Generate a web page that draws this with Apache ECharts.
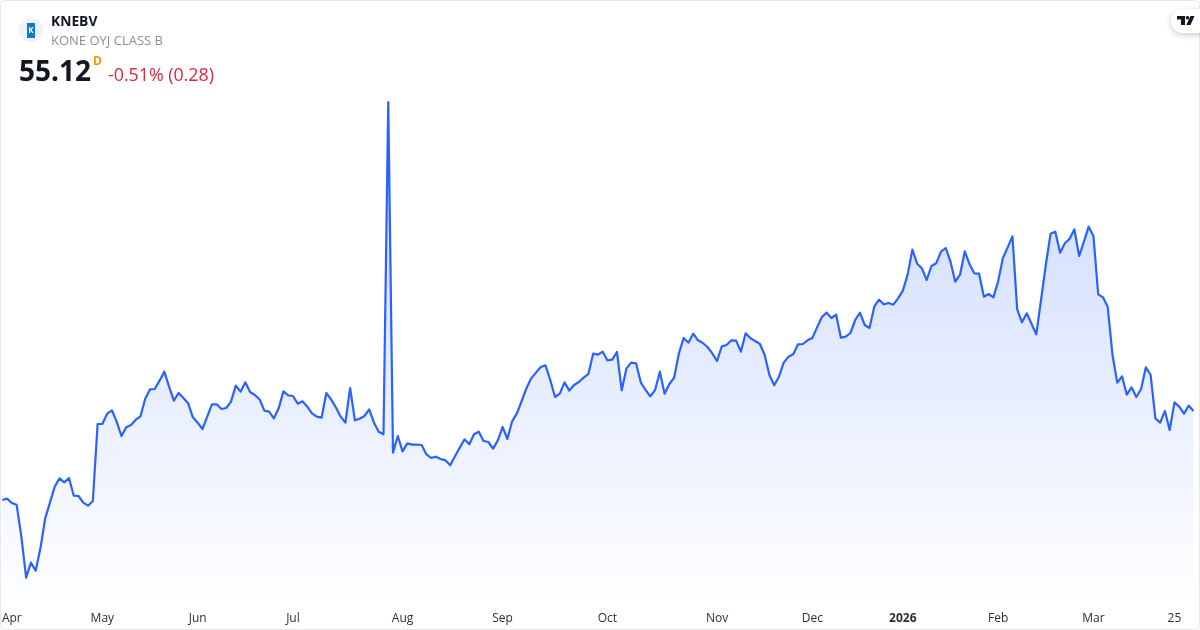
<!DOCTYPE html>
<html>
<head>
<meta charset="utf-8">
<style>html,body{margin:0;padding:0;background:#fff}#c{width:1200px;height:630px}</style>
<script src="https://cdn.jsdelivr.net/npm/echarts@6/dist/echarts.min.js"></script>
</head>
<body>
<div id="c"></div>
<script>
const symbol = 'KNEBV';
const company = 'KONE OYJ CLASS B';
const lastPrice = '55.12';
const intervalTag = 'D';
const changeText = '-0.51% (0.28)';
const prices = [
52.45,52.49,52.36,52.31,51.35,50.12,50.57,50.33,51.00,51.90,
52.37,52.85,53.10,52.98,53.11,52.58,52.57,52.37,52.28,52.42,
54.73,54.73,55.04,55.14,54.80,54.37,54.63,54.70,54.86,54.96,
55.49,55.77,55.78,56.03,56.30,55.85,55.43,55.66,55.51,55.35,
54.93,54.77,54.58,54.95,55.32,55.32,55.18,55.21,55.40,55.88,
55.70,55.98,55.69,55.60,55.47,55.13,55.10,54.90,55.20,55.71,
55.59,55.57,55.34,55.41,55.25,55.05,54.95,54.92,55.66,55.47,
55.23,54.95,54.77,55.81,54.84,54.89,54.97,55.17,54.77,54.50,
54.42,64.39,53.87,54.37,53.91,54.15,54.11,54.11,54.10,53.82,
53.71,53.75,53.68,53.64,53.49,53.76,54.02,54.27,54.12,54.42,
54.50,54.22,54.19,53.99,54.24,54.64,54.28,54.81,55.05,55.42,
55.80,56.10,56.27,56.44,56.49,56.05,55.54,55.64,55.98,55.73,
55.90,55.99,56.12,56.23,56.84,56.81,56.90,56.64,56.66,56.89,
55.74,56.40,56.57,56.55,55.98,55.75,55.56,55.75,56.30,55.64,
55.93,56.12,56.85,57.31,57.17,57.44,57.24,57.16,57.04,56.85,
56.62,57.06,57.10,57.24,57.23,56.90,57.45,57.30,57.22,57.13,
56.80,56.20,55.89,56.15,56.57,56.75,56.82,57.12,57.13,57.24,
57.31,57.63,57.94,58.07,57.91,58.01,57.32,57.35,57.46,57.85,
58.07,57.70,57.61,58.25,58.46,58.32,58.36,58.31,58.50,58.73,
59.21,59.96,59.54,59.40,59.05,59.47,59.55,59.90,60.01,59.60,
59.00,59.21,59.91,59.52,59.25,59.24,58.55,58.63,58.53,59.01,
59.71,60.03,60.36,58.17,57.78,58.05,57.74,57.42,58.45,59.50,
60.44,60.50,59.87,60.15,60.29,60.57,59.77,60.20,60.65,60.37,
58.62,58.53,58.24,56.80,55.97,56.16,55.61,55.83,55.54,55.78,
56.43,56.20,54.90,54.77,55.12,54.55,55.38,55.25,55.04,55.28,
55.12
];
const tickLabels = ['Apr','May','Jun','Jul','Aug','Sep','Oct','Nov','Dec','2026','Feb','Mar','25'];
const tickBars = [2,21,41,61,84,105,127,150,170,189,209,229,246];
const categories = prices.map((_, i) => String(i));

const FONT = '"Open Sans", "Noto Sans", sans-serif';
const chart = echarts.init(document.getElementById('c'), null, {renderer: 'canvas'});
chart.setOption({
  animation: false,
  backgroundColor: '#ffffff',
  grid: {left: 2.3, width: 1191.2, top: 75, height: 530, containLabel: false, outerBoundsMode: 'none'},
  xAxis: {
    type: 'category',
    data: categories,
    boundaryGap: false,
    axisLine: {show: false},
    axisTick: {show: false},
    splitLine: {show: false},
    axisLabel: {
      show: true,
      interval: (i) => tickBars.includes(i),
      hideOverlap: false,
      margin: 8,
      fontFamily: FONT,
      fontSize: 12,
      color: '#2a2e39',
      formatter: (v, i) => {
        const t = tickLabels[tickBars.indexOf(Number(v))];
        return t === '2026' ? '{b|' + t + '}' : t;
      },
      rich: {
        b: {fontFamily: FONT, fontSize: 12, fontWeight: 'bold', color: '#2a2e39'}
      }
    }
  },
  yAxis: {type: 'value', min: 49.3, max: 65.2, show: false, splitLine: {show: false}},
  series: [{
    type: 'line',
    data: prices,
    showSymbol: false,
    silent: true,
    smooth: false,
    clip: false,
    lineStyle: {color: '#2962ff', width: 2.2, join: 'round'},
    areaStyle: {
      color: new echarts.graphic.LinearGradient(0, 0, 0, 1, [
        {offset: 0, color: 'rgba(41,98,255,0.36)'},
        {offset: 1, color: 'rgba(41,98,255,0)'}
      ])
    }
  }],
  graphic: {elements: [
    {type: 'rect', silent: true, shape: {x: 0.5, y: 0.5, width: 1199, height: 629, r: 4},
      style: {fill: 'none', stroke: '#e6e8ee', lineWidth: 1}, z: 10},
    {type: 'circle', silent: true, shape: {cx: 31, cy: 30, r: 12}, style: {fill: '#eef3fb'}, z: 11},
    {type: 'rect', silent: true, shape: {x: 27, y: 23, width: 8, height: 15}, style: {fill: '#0a7cc9'}, z: 12},
    {type: 'text', silent: true, x: 31, y: 30.5, style: {text: 'K', fill: '#fff', font: 'bold 8px ' + FONT, align: 'center', verticalAlign: 'middle'}, z: 13},
    {type: 'text', silent: true, x: 51, y: 22, style: {text: symbol, fill: '#131722', font: 'bold 13.8px ' + FONT, verticalAlign: 'middle'}, z: 11},
    {type: 'text', silent: true, x: 51, y: 41, style: {text: company, fill: '#8a8e99', font: '13px ' + FONT, verticalAlign: 'middle'}, z: 11},
    {type: 'text', silent: true, x: 19, y: 73.5, style: {text: lastPrice, fill: '#131722', font: 'bold 28px ' + FONT, verticalAlign: 'middle'}, z: 11},
    {type: 'text', silent: true, x: 93, y: 62, style: {text: intervalTag, fill: '#ff9800', font: 'bold 12px ' + FONT, verticalAlign: 'middle'}, z: 11},
    {type: 'text', silent: true, x: 108, y: 75.5, style: {text: changeText, fill: '#d9283f', font: '17.8px ' + FONT, verticalAlign: 'middle'}, z: 11},
    {type: 'rect', silent: true, shape: {x: 1171, y: 9, width: 40, height: 24, r: 12},
      style: {fill: '#fff', shadowColor: 'rgba(0,0,0,0.2)', shadowBlur: 6, shadowOffsetY: 2}, z: 11},
    {type: 'polygon', silent: true, shape: {points: [[1177,16],[1185,16],[1185,25],[1181,25],[1181,19.5],[1177,19.5]]}, style: {fill: '#131722'}, z: 12},
    {type: 'circle', silent: true, shape: {cx: 1187.5, cy: 17.8, r: 1.8}, style: {fill: '#131722'}, z: 12},
    {type: 'polygon', silent: true, shape: {points: [[1190.5,16],[1194.5,16],[1190.5,25],[1186.2,25]]}, style: {fill: '#131722'}, z: 12}
  ]}
});
</script>
</body>
</html>
